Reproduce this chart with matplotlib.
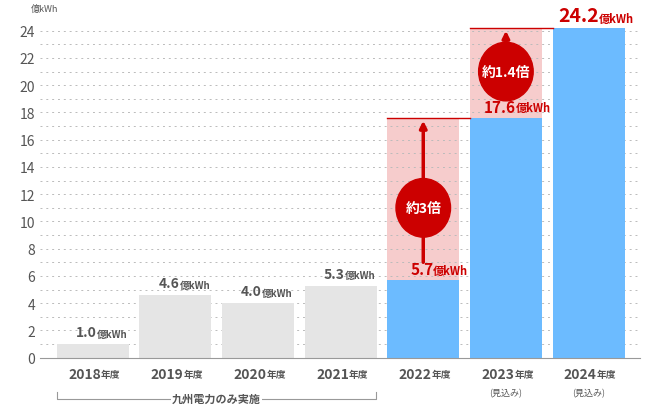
import matplotlib.pyplot as plt
from matplotlib.patches import Ellipse

plt.rcParams['font.family'] = ['Noto Sans CJK JP', 'DejaVu Sans']

years = ['2018', '2019', '2020', '2021', '2022', '2023', '2024']
values = [1.0, 4.6, 4.0, 5.3, 5.7, 17.6, 24.2]
notes = ['', '', '', '', '', '(見込み)', '(見込み)']

GREY = '#e5e5e5'
BLUE = '#6cbbff'
RED = '#cc0000'
PINK = '#f6cccc'

fig = plt.figure(figsize=(6.63, 4.10), dpi=100)
ax = fig.add_axes([0.06, 0.125, 0.905, 0.831])
x = list(range(len(years)))
w = 0.87

# pink growth bands
for i in (4, 5):
    ax.bar(x[i], values[i + 1] - values[i], bottom=values[i], width=w, color=PINK, zorder=1)
    ax.plot([x[i] - w / 2, x[i + 1] - w / 2], [values[i + 1]] * 2, color=RED, lw=1, zorder=3)

colors = [GREY] * 4 + [BLUE] * 3
ax.bar(x, values, width=w, color=colors, zorder=2)

for i, v in enumerate(values):
    if i < 4:
        ax.text(x[i] + 0.05, v + 0.35, f'{v:.1f}', ha='right', va='bottom', fontsize=10, color='#555555', fontweight='bold')
        ax.text(x[i] + 0.05, v + 0.4, '億kWh', ha='left', va='bottom', fontsize=7, color='#555555', fontweight='bold')
    else:
        fs = 14 if i == 6 else 11
        ax.text(x[i] + 0.12, v + 0.2, f'{v:.1f}', ha='right', va='bottom', fontsize=fs, color=RED, fontweight='bold')
        ax.text(x[i] + 0.12, v + 0.25, '億kWh', ha='left', va='bottom', fontsize=8, color=RED, fontweight='bold')

# ratio markers
for i, cy, r0, label in [(4, 11.0, 6.8, '約3倍'), (5, 21.0, 18.8, '約1.4倍')]:
    top = values[i + 1]
    ax.annotate('', xy=(x[i], top), xytext=(x[i], r0),
                arrowprops=dict(arrowstyle='-|>', color=RED, lw=2.5, mutation_scale=10), zorder=4)
    ax.add_patch(Ellipse((x[i], cy), 0.66, 4.3, color=RED, zorder=5))
    ax.text(x[i], cy, label, ha='center', va='center', color='white', fontsize=10, fontweight='bold', zorder=6)

ax.set_xlim(-0.64, 6.62)
ax.set_ylim(0, 25)
ax.set_yticks(range(0, 25, 2))
ax.set_yticks(range(0, 25), minor=True)
ax.tick_params(axis='y', which='both', length=0, labelsize=10, labelcolor='#555555')
ax.tick_params(axis='x', length=0)
ax.grid(axis='y', which='both', linestyle=(0, (2, 4)), color='#bbbbbb', lw=0.7, zorder=0)
ax.set_xticks(x)
ax.set_xticklabels(['' for _ in x])
for s in ('top', 'right', 'left'):
    ax.spines[s].set_visible(False)
ax.spines['bottom'].set_color('#999999')

for i, y in enumerate(years):
    ax.text(x[i] + 0.1, -0.7, y, ha='right', va='top', fontsize=10, color='#555555', fontweight='bold')
    ax.text(x[i] + 0.1, -0.85, '年度', ha='left', va='top', fontsize=7, color='#555555', fontweight='bold')
    if notes[i]:
        ax.text(x[i], -2.2, notes[i], ha='center', va='top', fontsize=6.5, color='#555555')

# bracket under 2018-2021
by = -3.0
ax.plot([-0.43, -0.43, 3.43, 3.43], [-2.5, by, by, -2.5], color='#999999', lw=0.8, clip_on=False)
ax.text(1.5, by, '九州電力のみ実施', ha='center', va='center', fontsize=8, color='#555555',
        fontweight='bold', bbox=dict(facecolor='white', edgecolor='none', pad=1))

ax.text(-0.75, 25.3, '億kWh', fontsize=6.5, color='#555555', ha='left', va='bottom')

fig.savefig('out.png', dpi=100)
